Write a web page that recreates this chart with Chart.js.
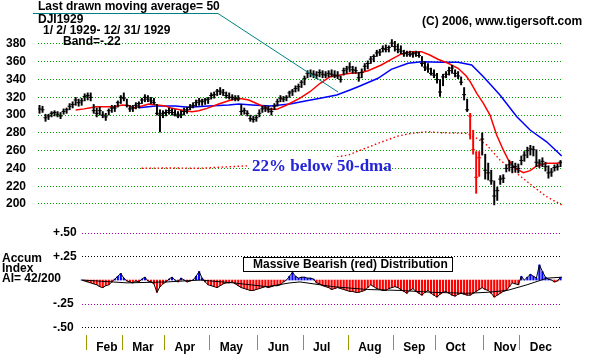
<!DOCTYPE html>
<html>
<head>
<meta charset="utf-8">
<title>DJI 1929</title>
<script src="https://cdn.jsdelivr.net/npm/chart.js@4"></script>
<style>
  html, body { margin: 0; padding: 0; background: #fff; }
  canvas { display: block; }
</style>
</head>
<body>
<canvas id="chart" width="589" height="354"></canvas>
<script>
/* DJI 1929 daily bars with moving averages and accumulation index */

const months = ['Jan', 'Feb', 'Mar', 'Apr', 'May', 'Jun', 'Jul', 'Aug', 'Sep', 'Oct', 'Nov', 'Dec'];
const barsPerMonth = [16, 12, 14, 15, 16, 15, 15, 15, 14, 16, 12, 14];

// price bars (high / low / close), one per bar slot
const highs = [
  311, 310, 301, 301, 304, 305, 304, 303, 307, 308, 313, 315, 320, 318, 319, 324,
  325, 325, 312, 308, 309, 304, 302, 307, 311, 311, 316, 322,
  325, 318, 311, 311, 314, 315, 319, 323, 322, 320, 319, 312, 306, 305,
  306, 308, 307, 306, 304, 305, 308, 309, 312, 314, 317, 319, 318, 319, 320,
  325, 326, 329, 331, 329, 326, 325, 323, 322, 322, 312, 308, 305, 300, 299, 300,
  306, 310, 311, 310, 308, 313, 318, 322, 321, 322, 327, 329, 333, 335, 339,
  344, 350, 351, 350, 349, 351, 350, 349, 350, 351, 350, 349, 344, 353, 355,
  359, 355, 354, 348, 352, 358, 361, 366, 368, 373, 374, 378, 379, 378, 385,
  383, 380, 378, 373, 372, 372, 371, 372, 371, 366, 360, 358, 353, 351,
  347, 340, 346, 349, 354, 356, 351, 349, 343, 331, 318, 302, 283, 259, 259, 280,
  256, 246, 238, 226, 219, 232, 233, 244, 249, 248, 246, 245,
  254, 259, 264, 266, 265, 261, 250, 252, 247, 243, 240, 244, 245, 249
];
const lows = [
  302, 303, 293, 295, 298, 299, 298, 296, 301, 302, 306, 308, 311, 310, 311, 316,
  317, 316, 302, 298, 300, 297, 294, 300, 303, 304, 309, 313,
  316, 309, 304, 304, 307, 308, 313, 315, 315, 313, 312, 300, 281, 297,
  299, 301, 300, 299, 297, 297, 300, 302, 306, 308, 310, 311, 311, 312, 313,
  318, 319, 322, 323, 322, 319, 318, 317, 316, 316, 300, 301, 299, 293, 292, 293,
  298, 303, 304, 303, 300, 306, 310, 315, 315, 316, 320, 322, 326, 327, 331,
  334, 342, 343, 342, 341, 343, 342, 342, 343, 343, 342, 341, 337, 345, 347,
  349, 347, 347, 338, 342, 350, 352, 358, 360, 366, 367, 371, 371, 371, 377,
  372, 370, 369, 366, 366, 366, 365, 366, 365, 355, 350, 348, 345, 342,
  336, 321, 333, 342, 345, 347, 343, 341, 334, 317, 304, 273, 256, 212, 231, 255,
  228, 227, 222, 199, 204, 222, 224, 236, 237, 235, 236, 235,
  244, 248, 252, 255, 254, 242, 241, 242, 237, 229, 231, 237, 238, 242
];
const closes = [
  307, 306, 297, 299, 302, 303, 301, 299, 304, 306, 310, 312, 317, 314, 316, 321,
  322, 320, 305, 302, 305, 300, 298, 305, 308, 308, 314, 320,
  319, 311, 307, 308, 311, 313, 317, 320, 318, 316, 314, 302, 300, 302,
  303, 305, 303, 301, 299, 301, 304, 306, 309, 311, 314, 316, 315, 317, 318,
  322, 323, 327, 327, 325, 322, 320, 320, 319, 318, 304, 305, 302, 296, 295, 297,
  302, 307, 308, 306, 304, 310, 315, 319, 318, 320, 325, 327, 330, 332, 337,
  341, 347, 347, 346, 345, 348, 346, 345, 347, 346, 345, 344, 340, 350, 352,
  354, 351, 350, 342, 348, 355, 358, 363, 366, 370, 371, 375, 374, 376, 381,
  377, 374, 372, 369, 370, 368, 369, 370, 367, 358, 354, 352, 347, 345,
  340, 326, 343, 346, 350, 353, 347, 344, 337, 323, 306, 299, 261, 230, 252, 273,
  238, 235, 226, 209, 215, 228, 229, 240, 244, 241, 242, 240,
  249, 255, 260, 262, 261, 247, 246, 248, 242, 235, 236, 241, 242, 247
];
// panic-selling days drawn in red
const panicBars = [143, 144, 145, 146];

// [bar slot, value]
const redAvg = [
  [12.0, 305.8], [14.8, 307.0], [17.0, 308.4], [18.7, 309.5], [24.7, 309.5], [27.5, 311.4],
  [29.7, 310.6], [31.4, 308.4], [34.0, 310.3], [36.3, 312.5], [39.0, 311.4], [41.8, 310.3],
  [44.0, 307.6], [48.4, 305.0], [50.6, 303.9], [52.9, 305.0], [55.6, 307.6], [59.5, 312.5],
  [62.8, 316.2], [66.2, 319.0], [69.5, 317.0], [73.2, 311.4], [76.5, 306.5], [78.8, 306.5],
  [82.1, 311.4], [86.5, 319.0], [89.8, 326.3], [93.2, 335.8], [96.5, 343.2], [99.8, 345.0],
  [103.1, 347.0], [106.4, 347.7], [109.1, 350.0], [113.5, 356.4], [116.8, 362.8], [120.2, 368.8],
  [123.5, 371.4], [126.8, 371.4], [129.6, 367.6], [132.3, 362.8], [135.7, 358.3], [139.0, 352.7],
  [141.7, 344.0], [143.0, 337.6], [145.2, 324.5], [147.4, 313.3], [149.6, 300.0], [151.8, 277.6],
  [154.0, 260.8], [155.7, 249.5], [157.9, 240.2], [160.7, 235.2], [162.9, 237.5], [165.1, 242.8],
  [168.4, 245.8], [171.8, 245.8], [173.4, 246.6]
];
const blueAvg = [
  [33.0, 308.4], [38.5, 310.3], [45.1, 310.3], [49.5, 308.8], [56.2, 310.3], [62.8, 311.4],
  [66.2, 312.5], [70.6, 311.4], [76.5, 310.3], [83.2, 312.5], [88.7, 316.2], [93.2, 318.9],
  [98.7, 322.6], [103.1, 328.3], [106.4, 332.8], [112.4, 341.4], [116.8, 351.5], [122.4, 358.3],
  [126.8, 360.1], [133.4, 359.4], [139.0, 359.4], [143.5, 356.4], [147.4, 343.2], [152.9, 322.6],
  [158.5, 298.2], [162.9, 283.2], [168.4, 270.0], [173.4, 254.0]
];
// 22% below the 50-day average
const bandLine = [
  [33.9, 240.2], [43.3, 240.5], [53.3, 240.2], [68.2, 242.8], [86.5, 246.0], [102.6, 255.1],
  [112.4, 268.3], [119.1, 276.5], [123.5, 279.5], [129.0, 281.3], [133.4, 280.2], [141.8, 279.5],
  [145.2, 273.9], [148.5, 266.4], [152.9, 249.5], [158.5, 234.5], [164.0, 219.5], [168.4, 208.2],
  [173.4, 199.0]
];

// accumulation index, starting at bar slot accumStart
const accumStart = 14;
const accum = [
  0.00, -0.01, -0.02, -0.03, -0.04, -0.05, -0.07, -0.08, -0.06, -0.05,
  -0.02, 0.01, 0.04, 0.07, 0.02, -0.01, -0.02, -0.03, -0.01, -0.02,
  0.01, 0.03, -0.01, -0.02, -0.04, -0.13, -0.07, -0.04, -0.02, 0.01,
  0.03, 0.00, -0.02, 0.02, 0.00, -0.02, -0.01, 0.00, 0.04, 0.09,
  0.02, -0.02, -0.05, -0.06, -0.07, -0.08, -0.06, -0.04, -0.03, -0.03,
  -0.02, -0.04, -0.06, -0.08, -0.09, -0.10, -0.11, -0.11, -0.10, -0.09,
  -0.08, -0.07, -0.08, -0.07, -0.06, -0.06, -0.05, -0.02, 0.00, 0.04,
  0.08, 0.04, 0.02, 0.03, 0.03, 0.02, 0.02, 0.01, -0.03, -0.04,
  -0.06, -0.07, -0.08, -0.10, -0.09, -0.08, -0.09, -0.10, -0.11, -0.12,
  -0.12, -0.13, -0.13, -0.12, -0.11, -0.08, -0.05, -0.07, -0.09, -0.10,
  -0.11, -0.11, -0.09, -0.08, -0.07, -0.08, -0.10, -0.12, -0.14, -0.11,
  -0.09, -0.12, -0.14, -0.16, -0.13, -0.11, -0.14, -0.16, -0.18, -0.15,
  -0.13, -0.12, -0.14, -0.16, -0.17, -0.15, -0.14, -0.15, -0.16, -0.16,
  -0.14, -0.12, -0.10, -0.08, -0.10, -0.11, -0.14, -0.18, -0.16, -0.14,
  -0.12, -0.11, -0.07, -0.03, -0.04, -0.05, 0.04, 0.00, 0.03, 0.06,
  0.04, 0.02, 0.16, 0.09, 0.03, 0.01, 0.00, -0.02, -0.01, 0.03
];
const accumAvg = [
  [14.1, 0.00], [29.1, -0.03], [42.3, -0.02], [53.3, 0.00], [64.3, -0.03], [75.6, -0.07],
  [83.2, -0.03], [86.5, -0.02], [97.5, -0.07], [108.8, -0.10], [119.7, -0.11], [130.7, -0.13],
  [141.8, -0.14], [148.6, -0.13], [155.3, -0.11], [161.9, -0.05], [168.5, 0.02], [173.5, 0.03]
];

const priceTicks = [380, 360, 340, 320, 300, 280, 260, 240, 220, 200];
const accumTicks = [0.5, 0.25, -0.25, -0.5];

// month start slots
const monthStart = [];
barsPerMonth.reduce((acc, n) => { monthStart.push(acc); return acc + n; }, 0);
const lastSlot = highs.length - 1;

const FONT = '"Liberation Sans", Arial, sans-serif';
const boldFont = { family: FONT, size: 12, weight: 'bold' };

// fixed box sizes, no extra label padding pushed into the layout
function fixBox(w, h) {
  return s => {
    if (w !== null) s.width = w;
    if (h !== null) s.height = h;
    s.paddingTop = s.paddingBottom = s.paddingLeft = s.paddingRight = 0;
  };
}

/**
 * Texts, boxes and the accumulation grid drawn around the datasets
 */
const overlay = {
  id: 'overlay',
  beforeDatasetsDraw(chart) {
    const { ctx, chartArea, scales } = chart;
    const left = scales.x.getPixelForValue(accumStart);
    ctx.save();
    ctx.lineWidth = 1;
    ctx.setLineDash([1, 2]);
    accumTicks.forEach((v, i) => {
      const py = Math.round(scales.yA.getPixelForValue(v)) + 0.5;
      ctx.strokeStyle = i % 2 === 0 ? '#b000b0' : '#000000';
      ctx.beginPath();
      ctx.moveTo(Math.round(left), py);
      ctx.lineTo(chartArea.right, py);
      ctx.stroke();
    });
    ctx.restore();
  },
  afterDatasetsDraw(chart) {
    const { ctx } = chart;
    ctx.save();

    // pointer from the heading to the 50-day line
    ctx.strokeStyle = '#008080';
    ctx.lineWidth = 1;
    ctx.beginPath();
    ctx.moveTo(33, 13.5);
    ctx.lineTo(218, 13.5);
    ctx.lineTo(338, 92);
    ctx.stroke();

    ctx.fillStyle = '#000';
    ctx.textBaseline = 'middle';
    ctx.font = `bold 12px ${FONT}`;
    ctx.fillText('Last drawn moving average= 50', 38, 7);
    ctx.fillText('DJI1929', 38, 20);
    ctx.fillText('1/ 2/ 1929- 12/ 31/ 1929', 43, 31);
    ctx.fillText('Band=-.22', 63, 42);
    ctx.fillText('(C) 2006, www.tigersoft.com', 422, 22);
    ctx.fillText('Accum', 2, 259);
    ctx.fillText('Index', 2, 269);
    ctx.fillText('AI= 42/200', 2, 279);

    // distribution label box
    ctx.fillStyle = '#fff';
    ctx.fillRect(243, 257, 209, 15);
    ctx.strokeStyle = '#000';
    ctx.strokeRect(243.5, 257.5, 209, 14);
    ctx.fillStyle = '#000';
    ctx.fillText('Massive Bearish (red) Distribution', 253, 265);

    // band caption
    ctx.fillStyle = '#fff';
    ctx.fillRect(249, 157, 131, 19);
    ctx.fillStyle = '#2424d8';
    ctx.font = 'bold 17px "Liberation Serif", "Times New Roman", serif';
    ctx.fillText('22% below 50-dma', 252, 167);
    ctx.restore();
  }
};

const pts = arr => arr.map(([x, y]) => ({ x, y }));
const barColor = i => (panicBars.includes(i) ? '#ff0000' : '#000000');

new Chart(document.getElementById('chart'), {
  type: 'bar',
  data: {
    datasets: [
      {
        type: 'line',
        data: closes.map((c, i) => ({ x: i, y: c })),
        showLine: false,
        pointStyle: 'line',
        pointRadius: 2,
        pointBorderWidth: 1,
        pointBorderColor: closes.map((c, i) => barColor(i)),
        yAxisID: 'y'
      },
      {
        type: 'bar',
        data: highs.map((h, i) => ({ x: i, y: [lows[i], h] })),
        backgroundColor: highs.map((h, i) => barColor(i)),
        barThickness: 1.3,
        grouped: false,
        yAxisID: 'y'
      },
      {
        type: 'line',
        data: pts(redAvg),
        borderColor: '#ff0000',
        borderWidth: 1.5,
        pointRadius: 0,
        yAxisID: 'y'
      },
      {
        type: 'line',
        data: pts(blueAvg),
        borderColor: '#0000ff',
        borderWidth: 1.5,
        pointRadius: 0,
        yAxisID: 'y'
      },
      {
        type: 'line',
        data: pts(bandLine),
        borderColor: '#ff0000',
        borderWidth: 1.4,
        borderDash: [1.5, 2.5],
        pointRadius: 0,
        yAxisID: 'y'
      },
      {
        type: 'line',
        data: accum.map((v, k) => ({ x: accumStart + k, y: v })),
        borderColor: '#000',
        borderWidth: 1,
        pointRadius: 0,
        yAxisID: 'yA'
      },
      {
        type: 'line',
        data: pts(accumAvg),
        borderColor: '#000',
        borderWidth: 1,
        pointRadius: 0,
        yAxisID: 'yA'
      },
      {
        type: 'bar',
        data: accum.map((v, k) => ({ x: accumStart + k, y: v })),
        backgroundColor: accum.map(v => (v >= 0 ? '#0000ff' : '#ff0000')),
        barThickness: 1.5,
        grouped: false,
        yAxisID: 'yA'
      }
    ]
  },
  options: {
    responsive: false,
    animation: false,
    events: [],
    layout: { autoPadding: false, padding: { top: 30, right: 27, bottom: 0, left: 0 } },
    plugins: {
      legend: { display: false },
      tooltip: { enabled: false }
    },
    scales: {
      x: {
        type: 'linear',
        min: -0.5,
        max: lastSlot + 0.5,
        offset: false,
        afterBuildTicks: s => { s.ticks = monthStart.slice(1).map(v => ({ value: v - 0.5 })); },
        afterFit: fixBox(null, 19),
        grid: { drawOnChartArea: false, drawTicks: true, tickLength: 15, color: '#9a9a00', offset: false },
        border: { display: false },
        ticks: {
          autoSkip: false,
          maxRotation: 0,
          align: 'start',
          labelOffset: 10,
          padding: -10,
          color: '#000',
          font: boldFont,
          callback: (v, i) => months[i + 1]
        }
      },
      y: {
        type: 'linear',
        position: 'left',
        weight: 1,
        min: 52.6,
        max: 395.75,
        afterBuildTicks: s => { s.ticks = priceTicks.map(v => ({ value: v })); },
        afterFit: fixBox(38, null),
        grid: { color: '#00a000', drawTicks: false },
        border: { display: false, dash: [1, 2] },
        ticks: { padding: 12, color: '#000', font: boldFont }
      },
      yA: {
        type: 'linear',
        position: 'left',
        weight: 0,
        min: -0.581,
        max: 2.643,
        afterBuildTicks: s => { s.ticks = accumTicks.map(v => ({ value: v })); },
        afterFit: fixBox(0, null),
        grid: { display: false },
        border: { display: false },
        ticks: {
          mirror: true,
          padding: 15,
          color: '#000',
          font: boldFont,
          callback: v => (v > 0 ? '+' : '-') + Math.abs(v).toFixed(2).slice(1)
        }
      }
    }
  },
  plugins: [overlay]
});
</script>
</body>
</html>
